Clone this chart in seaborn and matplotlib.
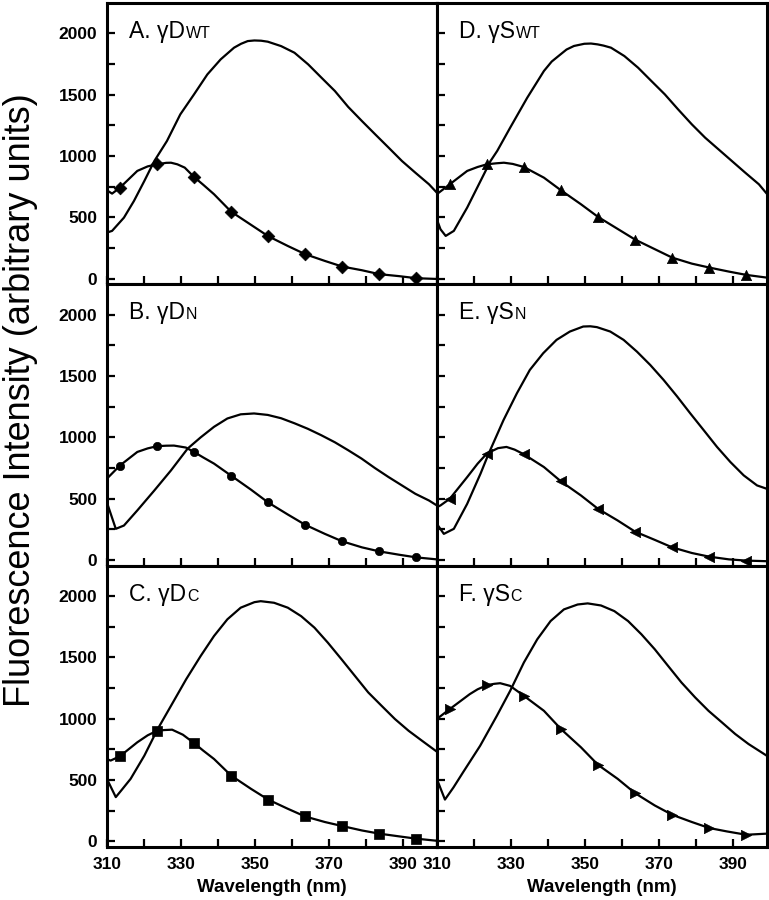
import numpy as np
import matplotlib
matplotlib.use("Agg")
import matplotlib.pyplot as plt
from matplotlib.ticker import FuncFormatter, FixedLocator
import seaborn as sns

sns.set_theme(style="white")
plt.rcParams['font.family'] = ['Liberation Sans', 'DejaVu Sans']

# ---------------- data ----------------
marker_wl = [313.5, 323.5, 333.5, 343.5, 353.5, 363.5, 373.5, 383.5, 393.5]

# Panel A  (gamma D WT)
plain_A_wl = [310, 311.4, 314.6, 317.3, 320.1, 322.8, 326.2, 329.8, 333.5, 337.1, 340.7, 344.3, 346.2, 348.0, 349.8,
              351.6, 353.4, 357.0, 360.6, 364.3, 367.9, 371.5, 375.1, 378.8, 382.4, 386.0, 389.6, 393.2, 396.9, 399]
plain_A = [375, 389, 497, 633, 796, 959, 1122, 1339, 1502, 1665, 1788, 1883, 1915, 1937, 1942,
           1940, 1932, 1896, 1842, 1747, 1638, 1530, 1400, 1285, 1176, 1068, 959, 864, 769, 701]
curve_A_wl = [310, 311.4, 318.2, 321.0, 326.0, 327.3, 329.0, 331.0, 336.0, 338.9, 348.9, 358.8, 368.8, 378.8, 388.8, 399]
curve_A = [720, 693, 878, 915, 944, 945, 932, 905, 765, 688, 438, 266, 144, 68, 20, -3]
mark_A = [741, 932, 829, 546, 346, 199, 98, 36, 3]

# Panel B  (gamma D N)
plain_B_wl = [310, 312.4, 314.6, 318.2, 322.8, 327.3, 331.8, 335.3, 338.9, 342.5, 346.1, 349.7, 353.4,
              357.0, 360.6, 364.2, 367.8, 371.5, 375.1, 378.7, 382.3, 386.0, 389.6, 393.2, 396.9, 399]
plain_B = [470, 254, 281, 404, 567, 731, 909, 1000, 1086, 1154, 1188, 1195, 1183,
           1156, 1115, 1070, 1018, 960, 895, 827, 750, 676, 608, 540, 485, 445]
curve_B_wl = [310, 318.2, 321.0, 326.0, 328.1, 331.3, 336.0, 338.9, 348.9, 358.8, 368.8, 378.8, 388.8, 399]
curve_B = [663, 881, 910, 932, 933, 917, 836, 786, 573, 371, 213, 103, 43, 5]
mark_B = [770, 928, 881, 688, 469, 287, 152, 70, 21]

# Panel C  (gamma D C)
plain_C_wl = [310, 312.4, 314.0, 316.4, 320.1, 323.7, 327.3, 331.4, 335.3, 338.9, 342.5, 346.1, 349.8, 351.5,
              355.1, 358.8, 362.4, 366.0, 369.6, 373.3, 376.9, 380.5, 384.1, 387.7, 391.4, 395.0, 399]
plain_C = [510, 361, 420, 510, 699, 916, 1106, 1323, 1512, 1675, 1811, 1906, 1951, 1959,
           1946, 1906, 1837, 1743, 1621, 1485, 1350, 1215, 1106, 998, 902, 821, 732]
curve_C_wl = [310, 311.0, 318.2, 321.0, 325.5, 327.6, 330.5, 336.0, 338.9, 348.9, 358.8, 368.8, 378.8, 388.8, 399]
curve_C = [672, 659, 808, 865, 908, 911, 870, 740, 672, 428, 266, 158, 89, 41, 5]
mark_C = [694, 902, 802, 537, 341, 203, 125, 63, 22]

# Panel D  (gamma S WT)
plain_D_wl = [310, 311.0, 312.4, 314.6, 318.2, 321.8, 324.5, 326.3, 329.8, 334.4, 338.9, 341.0, 343.4, 345.0, 347.0,
              349.8, 351.6, 353.4, 355.0, 357.0, 360.6, 364.3, 367.9, 371.5, 375.1, 378.8, 382.4, 386.0, 389.6,
              393.2, 396.9, 399]
plain_D = [484, 402, 348, 389, 579, 796, 959, 1041, 1231, 1475, 1693, 1770, 1829, 1868, 1897,
           1915, 1917, 1910, 1900, 1883, 1815, 1720, 1611, 1503, 1380, 1258, 1149, 1054, 959,
           864, 769, 693]
curve_D_wl = [310, 318.2, 321.0, 326.0, 328.1, 330.5, 338.9, 348.9, 358.8, 368.8, 378.8, 388.8, 399]
curve_D = [688, 878, 910, 940, 945, 935, 823, 606, 405, 240, 122, 57, 8]
mark_D = [769, 932, 910, 720, 503, 318, 171, 90, 30]

# Panel E  (gamma S N)
plain_E_wl = [310, 311.9, 314.6, 318.2, 321.8, 324.0, 328.0, 331.6, 335.1, 338.7, 342.3, 345.9, 349.5,
              351.4, 353.2, 356.8, 360.4, 364.0, 367.6, 371.2, 374.8, 378.4, 382.0, 385.6, 389.2, 392.8,
              396.4, 399]
plain_E = [295, 213, 254, 458, 704, 868, 1141, 1359, 1550, 1686, 1795, 1863, 1904,
           1906, 1899, 1863, 1795, 1699, 1590, 1468, 1335, 1195, 1059, 922, 799, 690,
           608, 581]
curve_E_wl = [310, 311.0, 318.2, 321.0, 326.5, 328.8, 331.0, 338.9, 348.9, 358.8, 368.8, 378.8, 388.8, 399]
curve_E = [430, 445, 676, 785, 912, 922, 900, 758, 526, 322, 164, 57, 5, -10]
mark_E = [499, 868, 862, 641, 417, 231, 103, 27, -5]

# Panel F  (gamma S C)
plain_F_wl = [310, 312.2, 314.5, 317.1, 321.7, 326.2, 329.8, 333.5, 337.1, 340.7, 344.3, 348.0, 350.7,
              354.3, 357.9, 361.6, 365.2, 368.8, 372.4, 376.0, 379.7, 383.3, 386.9, 390.5, 394.1, 399]
plain_F = [510, 341, 440, 564, 780, 1024, 1228, 1459, 1648, 1797, 1892, 1932, 1941,
           1924, 1878, 1797, 1689, 1567, 1431, 1296, 1174, 1065, 971, 876, 794, 699]
curve_F_wl = [310, 318.9, 321.0, 325.5, 327.1, 329.8, 338.9, 348.9, 358.8, 368.8, 378.8, 388.3, 399]
curve_F = [998, 1201, 1240, 1285, 1290, 1268, 1065, 767, 510, 293, 158, 81, 63]
mark_F = [1079, 1274, 1187, 916, 624, 393, 217, 109, 54]

panel_titles = ["A. \u03b3D", "B. \u03b3D", "C. \u03b3D", "D. \u03b3S", "E. \u03b3S", "F. \u03b3S"]
panel_subs = ["WT", "N", "C", "WT", "N", "C"]

x_ticks = [310, 320, 330, 340, 350, 360, 370, 380, 390]
y_ticks = [0, 250, 500, 750, 1000, 1250, 1500, 1750, 2000]

# ---------------- figure ----------------
fig, axes = plt.subplots(3, 2, figsize=(7.69, 9.0), dpi=100, sharex=True, sharey=True)
fig.subplots_adjust(left=0.139, right=0.997, top=0.997, bottom=0.059, wspace=0, hspace=0)

panels = [
    (axes[0, 0], plain_A_wl, plain_A, curve_A_wl, curve_A, mark_A, 'D', 42),
    (axes[1, 0], plain_B_wl, plain_B, curve_B_wl, curve_B, mark_B, 'o', 36),
    (axes[2, 0], plain_C_wl, plain_C, curve_C_wl, curve_C, mark_C, 's', 52),
    (axes[0, 1], plain_D_wl, plain_D, curve_D_wl, curve_D, mark_D, '^', 55),
    (axes[1, 1], plain_E_wl, plain_E, curve_E_wl, curve_E, mark_E, '<', 55),
    (axes[2, 1], plain_F_wl, plain_F, curve_F_wl, curve_F, mark_F, '>', 55),
]

for i, (ax, pwl, pv, cwl, cv, mv, mk, ms) in enumerate(panels):
    sns.lineplot(x=pwl, y=pv, ax=ax, color='black', lw=1.6, sort=True, estimator=None)
    lx = np.array(list(cwl) + list(marker_wl))
    ly = np.array(list(cv) + list(mv))
    order = np.argsort(lx)
    sns.lineplot(x=lx[order], y=ly[order], ax=ax, color='black', lw=1.6, sort=True, estimator=None)
    sns.scatterplot(x=marker_wl, y=mv, ax=ax, marker=mk, s=ms, color='black',
                    edgecolor='black', linewidth=0.5, zorder=4)
    ax.set_xlim(310, 399)
    ax.set_ylim(-45, 2250)
    ax.xaxis.set_major_locator(FixedLocator(x_ticks))
    ax.yaxis.set_major_locator(FixedLocator(y_ticks))
    ax.xaxis.set_major_formatter(FuncFormatter(lambda v, p: f"{v:.0f}" if int(round(v)) % 20 == 10 else ""))
    ax.yaxis.set_major_formatter(FuncFormatter(lambda v, p: f"{v:.0f}" if int(round(v)) % 500 == 0 else ""))
    ax.tick_params(direction='in', length=6, width=1.6, left=True, bottom=True, top=False, right=False,
                   labelsize=12.5, pad=7, colors='black')
    for sp in ax.spines.values():
        sp.set_linewidth(2.2)
        sp.set_color('black')
    ax.set_ylabel("")
    ax.set_xlabel("")

for ax in axes[2, :]:
    ax.set_xlabel("Wavelength (nm)", fontsize=13.5, fontweight='bold', labelpad=5, color='black')

for ax in axes.flat:
    for lab in ax.get_xticklabels() + ax.get_yticklabels():
        lab.set_fontweight('bold')

fig.text(0.027, 0.555, "Fluorescence Intensity (arbitrary units)", rotation=90,
         ha='center', va='center', fontsize=26, color='black')

fig.canvas.draw()
renderer = fig.canvas.get_renderer()
for i, (ax, *_rest) in enumerate(panels):
    t1 = ax.text(0.068, 0.875, panel_titles[i], transform=ax.transAxes, fontsize=16.5,
                 ha='left', va='baseline', color='black')
    bb = t1.get_window_extent(renderer=renderer)
    xa = ax.transAxes.inverted().transform((bb.x1 + 0.5, 0))[0]
    ax.text(xa, 0.875, panel_subs[i], transform=ax.transAxes, fontsize=11.5,
            ha='left', va='baseline', color='black')

fig.savefig("out.png", dpi=100)
